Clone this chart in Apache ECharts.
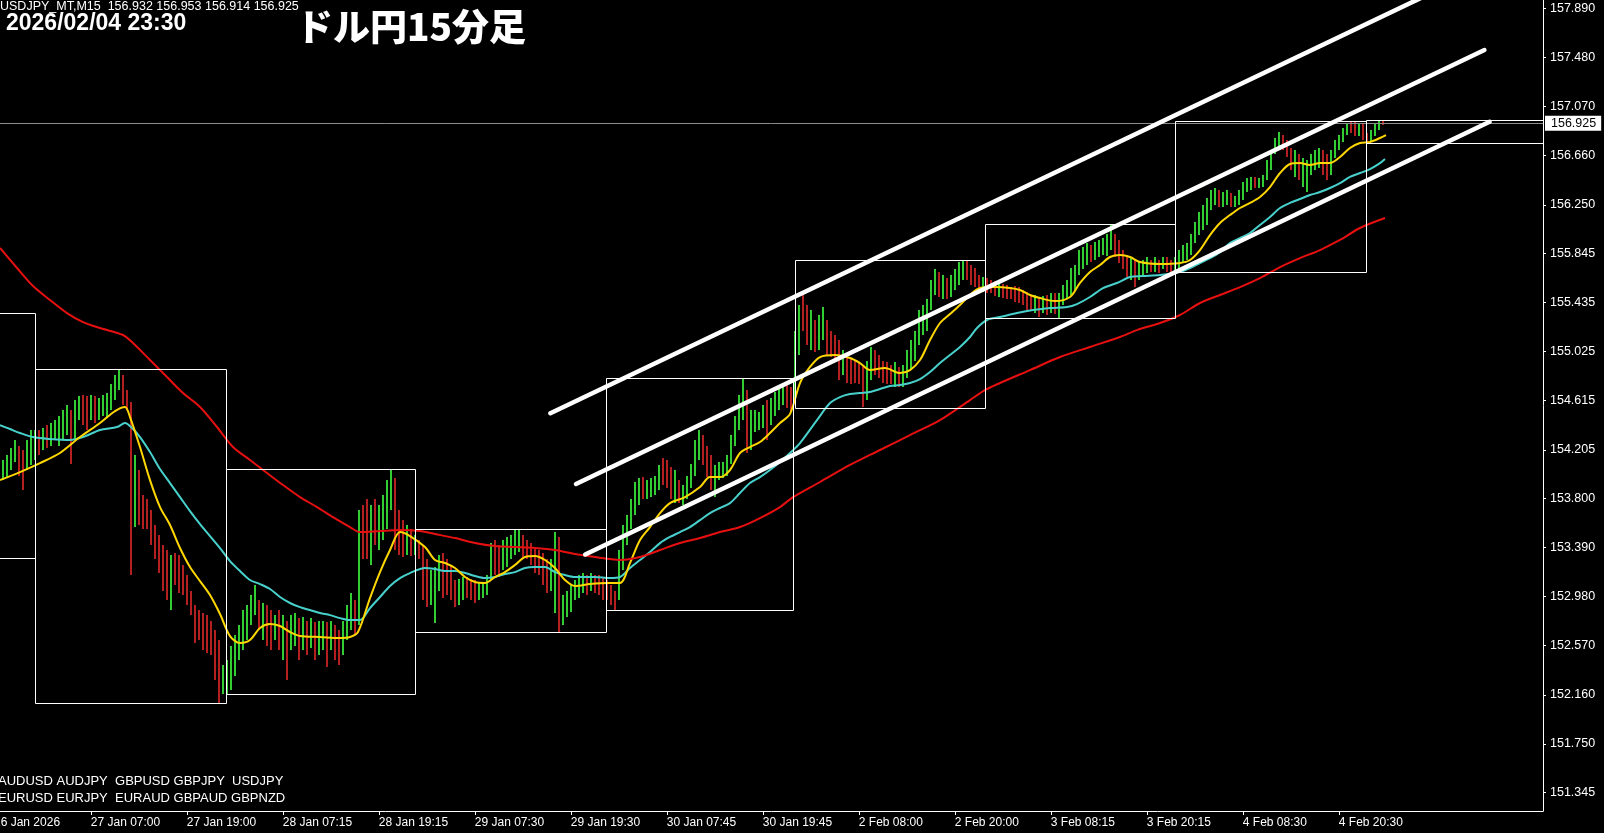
<!DOCTYPE html>
<html><head><meta charset="utf-8">
<script src="https://cdn.jsdelivr.net/npm/echarts@6/dist/echarts.min.js"></script>
<style>html,body{margin:0;padding:0;background:#000;}#c{width:1604px;height:833px;}</style>
</head><body><div id="c"></div>
<script>
// ---------- text ----------
const symbolInfo = 'USDJPY_MT,M15  156.932 156.953 156.914 156.925';
const dateText = '2026/02/04 23:30';
const titleText = 'ドル円15分足';
const pairsLine1 = 'AUDUSD AUDJPY  GBPUSD GBPJPY  USDJPY';
const pairsLine2 = 'EURUSD EURJPY  EURAUD GBPAUD GBPNZD';

// ---------- axes (x in 30-minute bar index) ----------
const xTickBars = [0,24,48,72,96,120,144,168,192,216,240,264,288,312,336];
const xTickLabels = ['26 Jan 2026','27 Jan 07:00','27 Jan 19:00','28 Jan 07:15','28 Jan 19:15','29 Jan 07:30','29 Jan 19:30','30 Jan 07:45','30 Jan 19:45','2 Feb 08:00','2 Feb 20:00','3 Feb 08:15','3 Feb 20:15','4 Feb 08:30','4 Feb 20:30'];
const yTickLabels = [151.345,151.750,152.160,152.570,152.980,153.390,153.800,154.205,154.615,155.025,155.435,155.845,156.250,156.660,157.070,157.480,157.890];
const lastPrice = 156.925;

// ---------- price bars [open, close, low, high], starting at bar index firstBar ----------
const firstBar = 2;
const bars = [
[153.97,154.04,153.95,154.12],[154.04,154.10,153.97,154.16],[154.10,154.16,154.04,154.22],[154.16,154.20,154.10,154.29],
[154.20,154.14,153.99,154.24],[154.14,154.08,153.87,154.20],[154.08,154.20,154.04,154.29],[154.20,154.24,154.08,154.37],
[154.24,154.29,154.12,154.37],[154.29,154.26,154.16,154.37],[154.26,154.33,154.20,154.39],[154.33,154.29,154.22,154.41],
[154.29,154.37,154.24,154.43],[154.37,154.39,154.29,154.45],[154.39,154.41,154.24,154.49],[154.41,154.45,154.29,154.54],
[154.45,154.49,154.33,154.58],[154.49,154.29,154.09,154.54],[154.29,154.54,154.29,154.62],[154.54,154.58,154.45,154.65],
[154.58,154.55,154.41,154.66],[154.55,154.54,154.37,154.65],[154.54,154.60,154.45,154.66],[154.60,154.54,154.43,154.65],
[154.54,154.58,154.45,154.64],[154.58,154.62,154.49,154.66],[154.62,154.64,154.48,154.68],[154.64,154.70,154.54,154.75],
[154.70,154.79,154.62,154.83],[154.79,154.83,154.70,154.88],[154.83,154.66,154.58,154.83],[154.66,154.58,154.54,154.70],
[154.58,153.79,153.16,154.60],[153.79,153.95,153.56,154.16],[153.95,153.74,153.58,154.04],[153.74,153.66,153.54,153.83],
[153.66,153.62,153.54,153.79],[153.62,153.49,153.41,153.70],[153.49,153.37,153.29,153.58],[153.37,153.29,153.18,153.49],
[153.29,153.16,153.03,153.41],[153.16,153.12,152.95,153.37],[153.12,153.24,152.87,153.33],[153.24,153.20,153.08,153.34],
[153.20,153.12,153.01,153.33],[153.12,153.08,152.99,153.24],[153.08,152.99,152.91,153.16],[152.99,152.87,152.83,153.03],
[152.87,152.74,152.59,152.91],[152.74,152.70,152.62,152.87],[152.70,152.66,152.53,152.84],[152.66,152.62,152.51,152.83],
[152.62,152.57,152.49,152.78],[152.57,152.41,152.28,152.70],[152.41,152.24,152.09,152.62],[152.24,152.32,152.17,152.41],
[152.32,152.37,152.17,152.45],[152.37,152.45,152.20,152.57],[152.45,152.57,152.32,152.66],[152.57,152.66,152.45,152.74],
[152.66,152.78,152.53,152.87],[152.78,152.83,152.62,152.91],[152.83,152.91,152.74,152.99],[152.91,152.95,152.83,153.08],
[152.95,152.78,152.70,152.95],[152.78,152.83,152.62,152.93],[152.83,152.74,152.57,152.91],[152.74,152.70,152.53,152.87],
[152.70,152.74,152.62,152.83],[152.74,152.66,152.53,152.87],[152.66,152.70,152.45,152.83],[152.70,152.57,152.28,152.78],
[152.57,152.70,152.53,152.83],[152.70,152.74,152.57,152.84],[152.74,152.62,152.45,152.80],[152.62,152.74,152.53,152.81],
[152.74,152.66,152.49,152.78],[152.66,152.70,152.55,152.80],[152.70,152.62,152.45,152.77],[152.62,152.68,152.49,152.78],
[152.68,152.70,152.53,152.78],[152.70,152.62,152.39,152.77],[152.62,152.66,152.53,152.78],[152.66,152.62,152.45,152.74],
[152.62,152.57,152.41,152.70],[152.57,152.66,152.49,152.78],[152.66,152.83,152.62,152.91],[152.83,152.87,152.70,153.01],
[152.87,152.83,152.67,152.95],[152.83,153.62,152.74,153.70],[153.62,153.54,153.29,153.74],[153.54,153.45,153.29,153.79],
[153.45,153.62,153.24,153.74],[153.62,153.58,153.41,153.79],[153.58,153.62,153.37,153.74],[153.62,153.70,153.45,153.83],
[153.70,153.79,153.54,153.95],[153.79,153.95,153.70,154.04],[153.95,153.54,153.37,153.97],[153.54,153.49,153.33,153.70],
[153.49,153.45,153.31,153.62],[153.45,153.49,153.33,153.58],[153.49,153.41,153.32,153.54],[153.41,153.43,153.33,153.49],
[153.43,153.37,153.29,153.45],[153.37,153.12,152.95,153.41],[153.12,152.99,152.89,153.29],[152.99,153.03,152.91,153.20],
[153.03,153.16,152.76,153.23],[153.16,153.24,153.03,153.33],[153.24,153.12,152.97,153.34],[153.12,153.08,152.99,153.29],
[153.08,153.03,152.95,153.24],[153.03,152.99,152.89,153.12],[152.99,153.03,152.91,153.13],[153.03,153.08,152.95,153.14],
[153.08,153.05,152.97,153.14],[153.05,153.03,152.95,153.13],[153.03,153.02,152.93,153.12],[153.02,153.03,152.95,153.10],
[153.03,153.05,152.97,153.09],[153.05,153.12,152.99,153.16],[153.12,153.33,153.12,153.43],[153.33,153.29,153.16,153.45],
[153.29,153.24,153.14,153.41],[153.24,153.33,153.20,153.45],[153.33,153.37,153.23,153.48],[153.37,153.41,153.29,153.49],
[153.41,153.45,153.33,153.54],[153.45,153.47,153.35,153.54],[153.47,153.41,153.29,153.49],[153.41,153.37,153.29,153.45],
[153.37,153.33,153.24,153.43],[153.33,153.29,153.18,153.39],[153.29,153.24,153.16,153.37],[153.24,153.20,153.08,153.34],
[153.20,153.12,153.01,153.29],[153.12,153.16,153.03,153.29],[153.16,153.41,152.84,153.52],[153.41,152.87,152.68,153.48],
[152.87,152.91,152.74,152.99],[152.91,152.95,152.81,153.03],[152.95,152.99,152.85,153.08],[152.99,153.05,152.95,153.12],
[153.05,153.08,152.97,153.16],[153.08,153.10,153.01,153.18],[153.10,153.08,152.99,153.16],[153.08,153.12,153.03,153.18],
[153.12,153.08,153.01,153.16],[153.08,153.05,152.99,153.16],[153.05,153.03,152.95,153.14],[153.03,153.02,152.95,153.12],
[153.02,152.97,152.91,153.08],[152.97,152.95,152.87,153.03],[152.95,153.29,152.95,153.37],[153.29,153.49,153.20,153.58],
[153.49,153.58,153.41,153.66],[153.58,153.70,153.54,153.79],[153.70,153.87,153.66,153.94],[153.87,153.91,153.74,153.97],
[153.91,153.87,153.79,153.98],[153.87,153.89,153.79,153.95],[153.89,153.91,153.81,153.97],[153.91,153.94,153.83,153.99],
[153.94,154.04,153.87,154.08],[154.04,153.99,153.91,154.14],[153.99,153.97,153.89,154.12],[153.97,153.87,153.79,154.06],
[153.87,153.91,153.76,154.04],[153.91,153.83,153.76,153.95],[153.83,153.87,153.74,153.91],[153.87,153.95,153.79,153.99],
[153.95,154.04,153.89,154.09],[154.04,154.20,153.99,154.29],[154.20,154.29,154.12,154.37],[154.29,154.16,154.08,154.33],
[154.16,154.12,153.98,154.24],[154.12,153.95,153.87,154.16],[153.95,153.99,153.81,154.08],[153.99,154.04,153.95,154.10],
[154.04,154.05,153.97,154.10],[154.05,154.12,153.99,154.16],[154.12,154.29,154.09,154.33],[154.29,154.41,154.24,154.49],
[154.41,154.58,154.37,154.66],[154.58,154.66,154.45,154.80],[154.66,154.37,154.18,154.70],[154.37,154.41,154.20,154.54],
[154.41,154.45,154.35,154.54],[154.45,154.47,154.37,154.52],[154.47,154.49,154.39,154.58],[154.49,154.41,154.29,154.62],
[154.41,154.58,154.41,154.64],[154.58,154.62,154.49,154.69],[154.62,154.66,154.54,154.72],[154.66,154.69,154.58,154.73],
[154.69,154.66,154.55,154.75],[154.66,154.62,154.52,154.73],[154.62,155.12,154.62,155.20],[155.12,155.33,155.00,155.41],
[155.33,155.25,155.20,155.51],[155.25,155.16,155.08,155.41],[155.16,155.20,155.04,155.37],[155.20,155.12,155.02,155.29],
[155.12,155.25,155.04,155.33],[155.25,155.29,155.12,155.40],[155.29,155.12,155.00,155.29],[155.12,155.08,154.98,155.20],
[155.08,155.04,154.95,155.16],[155.04,154.91,154.79,155.12],[154.91,154.95,154.83,155.04],[154.95,154.87,154.76,155.00],
[154.87,154.85,154.75,154.97],[154.85,154.83,154.76,154.95],[154.83,154.80,154.75,154.94],[154.80,154.75,154.56,154.91],
[154.75,154.83,154.62,154.95],[154.83,155.00,154.79,155.06],[155.00,154.95,154.83,155.04],[154.95,154.91,154.80,155.00],
[154.91,154.85,154.76,154.95],[154.85,154.83,154.75,154.94],[154.83,154.80,154.75,154.91],[154.80,154.83,154.73,154.94],
[154.83,154.79,154.73,154.90],[154.79,154.85,154.73,154.91],[154.85,154.97,154.80,155.04],[154.97,155.08,154.87,155.12],
[155.08,155.16,154.95,155.20],[155.16,155.30,155.08,155.37],[155.30,155.35,155.16,155.41],[155.35,155.41,155.20,155.46],
[155.41,155.58,155.37,155.62],[155.58,155.64,155.50,155.71],[155.64,155.54,155.48,155.69],[155.54,155.58,155.46,155.66],
[155.58,155.54,155.46,155.64],[155.54,155.61,155.48,155.66],[155.61,155.66,155.54,155.71],[155.66,155.72,155.58,155.77],
[155.72,155.75,155.62,155.79],[155.75,155.71,155.62,155.79],[155.71,155.66,155.58,155.75],[155.66,155.62,155.56,155.72],
[155.62,155.58,155.54,155.66],[155.58,155.61,155.52,155.65],[155.61,155.58,155.51,155.64],[155.58,155.56,155.51,155.62],
[155.56,155.54,155.49,155.61],[155.54,155.56,155.48,155.60],[155.56,155.52,155.47,155.59],[155.52,155.51,155.46,155.58],
[155.51,155.50,155.46,155.56],[155.50,155.49,155.44,155.57],[155.49,155.47,155.43,155.56],[155.47,155.46,155.41,155.54],
[155.46,155.43,155.37,155.52],[155.43,155.41,155.37,155.50],[155.41,155.42,155.35,155.50],[155.42,155.41,155.31,155.48],
[155.41,155.43,155.35,155.49],[155.43,155.41,155.33,155.50],[155.41,155.46,155.35,155.51],[155.46,155.44,155.34,155.51],
[155.44,155.46,155.30,155.51],[155.46,155.54,155.41,155.58],[155.54,155.58,155.46,155.62],[155.58,155.66,155.50,155.72],
[155.66,155.71,155.54,155.75],[155.71,155.83,155.66,155.87],[155.83,155.86,155.71,155.90],[155.86,155.87,155.75,155.93],
[155.87,155.83,155.77,155.91],[155.83,155.89,155.79,155.94],[155.89,155.91,155.81,155.96],[155.91,155.92,155.83,155.97],
[155.92,155.96,155.82,156.01],[155.96,156.00,155.87,156.08],[156.00,155.87,155.81,156.01],[155.87,155.83,155.76,155.96],
[155.83,155.77,155.71,155.87],[155.77,155.71,155.65,155.83],[155.71,155.72,155.62,155.81],[155.72,155.66,155.56,155.79],
[155.66,155.72,155.62,155.77],[155.72,155.75,155.66,155.79],[155.75,155.76,155.68,155.81],[155.76,155.75,155.69,155.79],
[155.75,155.76,155.69,155.81],[155.76,155.74,155.68,155.79],[155.74,155.77,155.71,155.81],[155.77,155.75,155.69,155.81],
[155.75,155.74,155.68,155.79],[155.74,155.76,155.70,155.81],[155.76,155.83,155.69,155.87],[155.83,155.87,155.77,155.91],
[155.87,155.91,155.79,155.93],[155.91,155.97,155.83,156.01],[155.97,156.06,155.93,156.11],[156.06,156.14,156.00,156.19],
[156.14,156.21,156.04,156.25],[156.21,156.26,156.08,156.31],[156.26,156.33,156.21,156.37],[156.33,156.35,156.25,156.39],
[156.35,156.29,156.23,156.37],[156.29,156.31,156.23,156.36],[156.31,156.33,156.25,156.37],[156.33,156.29,156.23,156.35],
[156.29,156.31,156.23,156.32],[156.31,156.33,156.25,156.37],[156.33,156.42,156.29,156.44],[156.42,156.44,156.36,156.47],
[156.44,156.46,156.37,156.48],[156.46,156.44,156.39,156.48],[156.44,156.46,156.39,156.47],[156.46,156.47,156.40,156.50],
[156.47,156.58,156.46,156.62],[156.58,156.67,156.54,156.71],[156.67,156.77,156.67,156.81],[156.77,156.81,156.72,156.86],
[156.81,156.75,156.71,156.83],[156.75,156.71,156.65,156.79],[156.71,156.58,156.54,156.72],[156.58,156.67,156.48,156.71],
[156.67,156.52,156.46,156.67],[156.52,156.56,156.40,156.64],[156.56,156.58,156.36,156.62],[156.58,156.62,156.50,156.67],
[156.62,156.67,156.54,156.71],[156.67,156.69,156.56,156.72],[156.69,156.62,156.50,156.71],[156.62,156.54,156.46,156.67],
[156.54,156.67,156.50,156.71],[156.67,156.75,156.64,156.79],[156.75,156.81,156.71,156.83],[156.81,156.87,156.77,156.89],
[156.87,156.91,156.83,156.93],[156.91,156.89,156.85,156.94],[156.89,156.87,156.82,156.94],[156.87,156.89,156.82,156.93],
[156.89,156.83,156.79,156.92],[156.83,156.81,156.77,156.85],[156.81,156.85,156.77,156.87],[156.85,156.89,156.82,156.92],
[156.89,156.93,156.87,156.96],[156.932,156.925,156.914,156.953]
];

// ---------- moving averages [bar index, price] ----------
const maFast = [[1.3,153.952],[6.3,154.019],[11.3,154.094],[16.3,154.178],[21.3,154.311],[26.3,154.428],[30.05,154.528],[32.55,154.562],[33.8,154.478],[36.3,154.228],[38.8,153.952],[41.3,153.727],[43.8,153.577],[46.3,153.385],[48.8,153.226],[51.3,153.109],[53.8,152.992],[56.3,152.834],[58.8,152.650],[61.3,152.592],[63.8,152.617],[66.3,152.717],[68.8,152.750],[71.3,152.734],[73.8,152.684],[76.3,152.650],[81.3,152.642],[86.3,152.633],[88.8,152.642],[90.8,152.684],[93.8,152.967],[96.3,153.184],[98.8,153.368],[101.3,153.518],[103.8,153.485],[107.55,153.393],[110.05,153.285],[112.55,153.260],[115.05,153.218],[117.55,153.143],[120.05,153.101],[122.55,153.093],[125.05,153.143],[127.55,153.184],[130.05,153.243],[132.55,153.310],[135.05,153.318],[137.55,153.285],[140.05,153.218],[142.55,153.118],[145.05,153.068],[148.8,153.084],[153.3,153.093],[156.3,153.093],[158.8,153.260],[161.3,153.452],[163.8,153.560],[166.3,153.677],[168.8,153.760],[172.55,153.810],[176.3,153.894],[178.8,153.977],[181.3,153.977],[183.8,154.036],[186.3,154.178],[188.8,154.228],[191.3,154.270],[193.8,154.345],[196.3,154.428],[198.8,154.503],[201.3,154.762],[203.8,154.896],[206.3,154.979],[210.05,154.996],[213.8,154.971],[216.3,154.929],[218.8,154.870],[222.55,154.887],[226.3,154.845],[228.8,154.870],[231.3,154.954],[233.8,155.121],[236.3,155.263],[238.8,155.338],[241.3,155.413],[243.8,155.497],[246.3,155.555],[250.05,155.563],[253.8,155.555],[256.3,155.538],[258.8,155.497],[261.3,155.471],[265.05,155.446],[268.8,155.480],[271.3,155.597],[273.8,155.689],[276.3,155.747],[278.8,155.814],[281.3,155.830],[283.8,155.814],[286.3,155.772],[291.3,155.755],[296.3,155.764],[298.8,155.789],[301.3,155.872],[303.8,155.997],[306.3,156.098],[308.8,156.164],[311.3,156.223],[313.8,156.265],[316.3,156.315],[318.8,156.398],[321.3,156.515],[323.8,156.590],[326.3,156.598],[328.8,156.582],[331.3,156.598],[333.8,156.598],[336.3,156.649],[338.8,156.724],[341.3,156.765],[343.8,156.774],[346.3,156.807],[347.8,156.832]];
const maMid = [[1.3,154.411],[3.8,154.378],[6.3,154.345],[9.55,154.311],[13.8,154.295],[18.8,154.286],[22.05,154.311],[26.3,154.370],[30.55,154.395],[32.55,154.428],[34.55,154.378],[36.3,154.311],[38.8,154.186],[41.3,154.044],[43.8,153.927],[46.3,153.810],[48.8,153.693],[51.3,153.585],[53.8,153.485],[56.3,153.385],[58.8,153.276],[61.3,153.193],[63.8,153.118],[66.3,153.084],[68.8,153.043],[71.3,152.976],[73.8,152.926],[76.3,152.892],[78.8,152.867],[81.3,152.842],[83.8,152.825],[86.3,152.800],[88.8,152.784],[91.3,152.784],[93.8,152.884],[96.3,152.976],[98.8,153.068],[101.3,153.134],[103.8,153.176],[107.55,153.218],[110.05,153.209],[112.55,153.193],[115.05,153.193],[117.55,153.176],[120.05,153.151],[122.55,153.134],[125.05,153.143],[127.55,153.168],[130.05,153.184],[132.55,153.218],[135.05,153.226],[137.55,153.226],[140.05,153.184],[142.55,153.159],[145.05,153.143],[150.05,153.143],[153.8,153.134],[156.3,153.143],[158.8,153.218],[161.3,153.285],[163.8,153.351],[166.3,153.426],[168.8,153.477],[171.3,153.518],[173.8,153.560],[176.3,153.618],[178.8,153.677],[181.3,153.719],[183.8,153.760],[186.3,153.844],[188.8,153.927],[191.3,153.977],[193.8,154.036],[196.3,154.103],[198.8,154.178],[201.3,154.261],[205.55,154.453],[208.8,154.595],[211.3,154.645],[213.8,154.670],[216.3,154.679],[218.8,154.687],[221.3,154.712],[223.8,154.737],[226.3,154.745],[228.8,154.762],[231.3,154.795],[233.8,154.854],[236.3,154.929],[238.8,154.996],[241.3,155.063],[243.8,155.146],[245.55,155.221],[248.05,155.288],[251.3,155.313],[255.55,155.346],[259.55,155.371],[263.8,155.388],[268.05,155.396],[270.55,155.421],[273.8,155.480],[277.05,155.555],[280.55,155.597],[283.8,155.647],[287.05,155.655],[291.3,155.664],[296.3,155.689],[298.8,155.722],[301.3,155.764],[303.8,155.805],[306.3,155.855],[308.8,155.931],[311.3,155.972],[313.8,156.014],[316.3,156.081],[318.8,156.148],[321.3,156.223],[323.8,156.265],[326.3,156.298],[328.8,156.331],[331.3,156.356],[333.8,156.390],[336.3,156.431],[338.8,156.482],[341.3,156.515],[343.8,156.548],[346.3,156.598],[347.55,156.632]];
const maSlow = [[1.3,155.889],[5.55,155.722],[9.55,155.572],[13.8,155.455],[18.05,155.346],[22.05,155.271],[26.3,155.221],[32.05,155.163],[34.55,155.096],[38.8,154.954],[43.05,154.812],[47.05,154.679],[51.3,154.562],[55.55,154.395],[59.55,154.228],[63.8,154.119],[68.05,154.011],[72.05,153.911],[76.3,153.810],[80.55,153.727],[84.55,153.643],[88.8,153.560],[91.3,153.518],[96.3,153.527],[101.3,153.535],[106.3,153.527],[110.05,153.502],[115.05,153.468],[120.05,153.427],[125.05,153.401],[130.05,153.393],[135.05,153.385],[140.05,153.368],[145.05,153.335],[150.05,153.310],[153.8,153.293],[156.3,153.285],[161.3,153.310],[166.3,153.368],[171.3,153.427],[176.3,153.468],[181.3,153.518],[186.3,153.560],[191.3,153.635],[196.3,153.727],[199.55,153.810],[206.3,153.936],[213.8,154.078],[221.3,154.203],[228.8,154.328],[236.3,154.453],[243.8,154.620],[247.55,154.703],[251.3,154.762],[258.8,154.870],[266.3,154.979],[273.8,155.063],[281.3,155.146],[285.55,155.204],[291.3,155.263],[296.3,155.330],[301.3,155.430],[306.3,155.497],[311.3,155.563],[316.3,155.638],[321.3,155.730],[326.3,155.805],[331.3,155.872],[336.3,155.956],[341.3,156.056],[347.55,156.139]];

// ---------- daily range boxes ----------
const boxStart = [-40, 10.1, 57.7, 105.1, 152.7, 200.0, 247.55, 295.15, 342.7];
const boxEnd   = [10.1, 57.7, 105.1, 152.7, 199.5, 247.55, 295.15, 342.7, 420];
const boxHigh  = [155.344, 154.877, 154.042, 153.544, 154.800, 155.791, 156.090, 156.947, 156.958];
const boxLow   = [153.302, 152.089, 152.164, 152.684, 152.870, 154.552, 155.305, 155.686, 156.763];

// ---------- channel lines ----------
const channelUpper = [[138.9,154.510],[357.55,157.992]];
const channelMid   = [[145.3,153.920],[372.4,157.541]];
const channelLower = [[147.6,153.331],[373.7,156.943]];

// ---------- chart ----------
const FONT = "'Liberation Sans', Arial, sans-serif";
const UP = '#32cd32', DOWN = '#b42020';
const xMin = 1.3, xMax = 387.05, yMin = 151.19, yMax = 157.959;
const chart = echarts.init(document.getElementById('c'), null, {renderer: 'canvas'});
const barData = bars.map((b, k) => [firstBar + k, b[0], b[1], b[2], b[3]]);
const boxData = boxStart.map((s, i) => [s, boxEnd[i], boxHigh[i], boxLow[i]]);
const visibleTicks = xTickBars.filter(v => v >= xMin);

function renderBar(params, api) {
  const x = api.value(0), o = api.value(1), c = api.value(2), l = api.value(3), h = api.value(4);
  const pH = api.coord([x, h]), pL = api.coord([x, l]);
  const top = Math.round(pH[1]), bot = Math.round(pL[1]);
  return {type: 'rect', shape: {x: Math.round(pH[0]) - 1, y: top, width: 2, height: Math.max(1, bot - top)},
          style: {fill: c >= o ? UP : DOWN}};
}
function renderBox(params, api) {
  const p1 = api.coord([api.value(0), api.value(2)]);
  const p2 = api.coord([api.value(1), api.value(3)]);
  const x1 = Math.round(p1[0]) + 0.5, y1 = Math.round(p1[1]) + 0.5;
  const x2 = Math.round(p2[0]) + 0.5, y2 = Math.round(p2[1]) + 0.5;
  return {type: 'rect', shape: {x: x1, y: y1, width: x2 - x1, height: y2 - y1},
          style: {fill: 'none', stroke: '#ffffff', lineWidth: 1}};
}
function maSeries(data, color) {
  return {type: 'line', data: data, showSymbol: false, symbol: 'none', smooth: 0.3, z: 3,
          lineStyle: {color: color, width: 2}, silent: true};
}
function channelSeries(data) {
  return {type: 'line', data: data, showSymbol: false, symbol: 'none', z: 6, clip: true,
          lineStyle: {color: '#ffffff', width: 4.5, cap: 'round'}, silent: true};
}

const option = {
  backgroundColor: '#000000',
  animation: false,
  grid: {left: 0, right: 61, top: 0, bottom: 22, containLabel: false},
  xAxis: {
    type: 'value', min: xMin, max: xMax,
    axisLine: {show: true, onZero: false, lineStyle: {color: '#ffffff', width: 1}},
    axisTick: {show: true, customValues: visibleTicks, length: 4, lineStyle: {color: '#ffffff'}},
    axisLabel: {customValues: visibleTicks, formatter: v => xTickLabels[xTickBars.indexOf(v)],
                color: '#ffffff', fontFamily: FONT, fontSize: 12, align: 'left', margin: 6},
    splitLine: {show: false}
  },
  yAxis: {
    type: 'value', position: 'right', min: yMin, max: yMax,
    axisLine: {show: true, lineStyle: {color: '#ffffff', width: 1}},
    axisTick: {show: true, customValues: yTickLabels, length: 3, lineStyle: {color: '#ffffff'}},
    axisLabel: {customValues: yTickLabels, formatter: v => v.toFixed(3), color: '#ffffff', fontFamily: FONT, fontSize: 12.5, margin: 7},
    splitLine: {show: false}
  },
  graphic: [
    {type: 'text', x: 0, y: 7, style: {text: symbolInfo, fill: '#ffffff', font: "12.5px 'Liberation Sans', Arial, sans-serif", verticalAlign: 'middle'}},
    {type: 'text', x: 6, y: 24, style: {text: dateText, fill: '#ffffff', font: "bold 23px 'Liberation Sans', Arial, sans-serif", verticalAlign: 'middle'}},
    {type: 'text', x: 296, y: 27, style: {text: titleText, fill: '#ffffff', font: "900 37px 'Noto Sans CJK JP', sans-serif", verticalAlign: 'middle'}},
    {type: 'text', x: -2, y: 781, style: {text: pairsLine1, fill: '#ffffff', font: "13px 'Liberation Sans', Arial, sans-serif", verticalAlign: 'middle'}},
    {type: 'text', x: -2, y: 798, style: {text: pairsLine2, fill: '#ffffff', font: "13px 'Liberation Sans', Arial, sans-serif", verticalAlign: 'middle'}},
    // first date label, whose tick lies just left of the visible plot
    {type: 'text', x: -6, y: 823, style: {text: xTickLabels[0], fill: '#ffffff', font: "12px 'Liberation Sans', Arial, sans-serif", verticalAlign: 'middle'}}
  ],
  series: [
    {type: 'custom', name: 'bars', coordinateSystem: 'cartesian2d', clip: true, z: 2, silent: true,
     data: barData, encode: {x: 0, y: [1, 2, 3, 4]}, renderItem: renderBar},
    maSeries(maMid, '#48d1cc'),
    maSeries(maFast, '#ffd700'),
    Object.assign(maSeries(maSlow, '#e61010'), {
      clip: false,
      markLine: {silent: true, symbol: 'none', data: [{yAxis: lastPrice}],
                 label: {show: true, position: 'end', formatter: lastPrice.toFixed(3), color: '#000000',
                         backgroundColor: '#ffffff', padding: [1, 5, 1, 6], distance: 2,
                         fontFamily: FONT, fontSize: 12.5},
                 lineStyle: {color: '#8c8c8c', width: 1, type: 'solid'}}
    }),
    {type: 'custom', name: 'boxes', coordinateSystem: 'cartesian2d', clip: true, z: 5, silent: true,
     data: boxData, encode: {x: [0, 1], y: [2, 3]}, renderItem: renderBox},
    channelSeries(channelUpper),
    channelSeries(channelMid),
    channelSeries(channelLower)
  ]
};
chart.setOption(option);
</script>
</body></html>
